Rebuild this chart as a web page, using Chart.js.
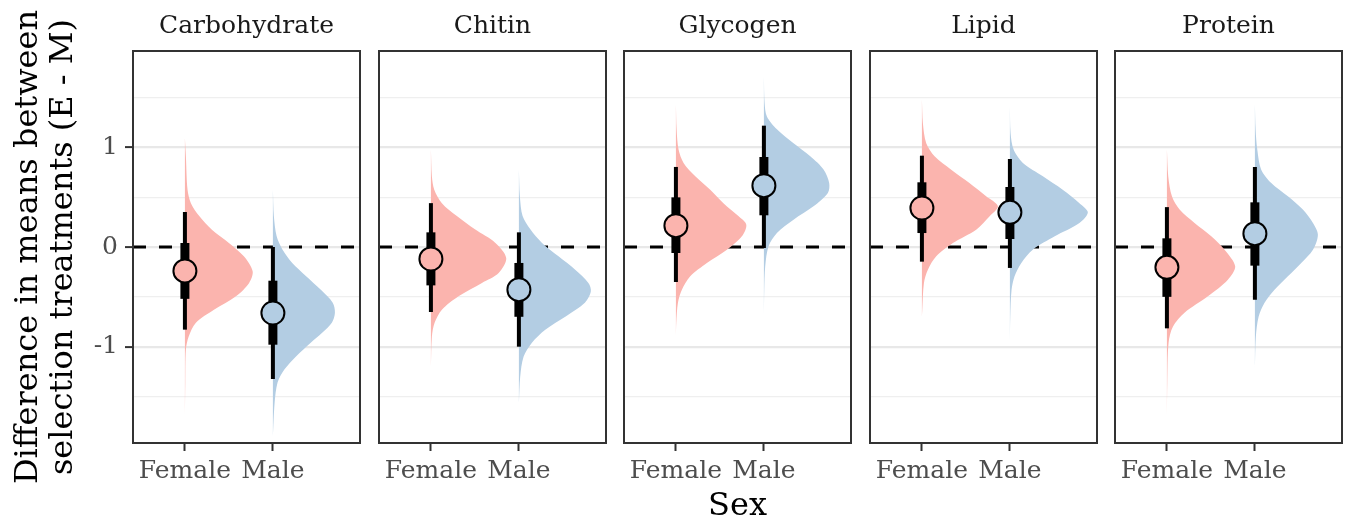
<!DOCTYPE html>
<html><head><meta charset="utf-8">
<script src="https://cdn.jsdelivr.net/npm/chart.js@4/dist/chart.umd.min.js"></script>
<style>
html,body{margin:0;padding:0;background:#fff;}
#wrap{position:relative;width:1345px;height:524px;overflow:hidden;background:#fff;}
canvas{position:absolute;top:0;}
</style></head><body><div id="wrap"></div>
<script>
// ---------------- data ----------------
const nutrients = ['Carbohydrate', 'Chitin', 'Glycogen', 'Lipid', 'Protein'];
const sexes = ['Female', 'Male'];
const yTickValues = [-1, 0, 1];

const femaleMedian = [-0.24, -0.12, 0.214, 0.391, -0.204];
const maleMedian   = [-0.662, -0.428, 0.615, 0.348, 0.134];

const femaleLo95 = [-0.829, -0.652, -0.351, -0.147, -0.816];
const femaleHi95 = [0.351, 0.44, 0.803, 0.916, 0.40];
const femaleLo66 = [-0.52, -0.385, -0.06, 0.14, -0.50];
const femaleHi66 = [0.04, 0.147, 0.498, 0.649, 0.087];

const maleLo95 = [-1.324, -1.0, -0.01, -0.21, -0.528];
const maleHi95 = [0.0, 0.147, 1.217, 0.883, 0.803];
const maleLo66 = [-0.98, -0.70, 0.318, 0.08, -0.187];
const maleHi66 = [-0.338, -0.16, 0.903, 0.602, 0.448];

// posterior density outlines: [value, relative density]
const femaleDensity = [
  [[1.09,0],[0.91,0.011],[0.575,0.03],[0.44,0.068],[0.31,0.163],[0.17,0.31],[0.04,0.5],[-0.094,0.67],[-0.244,0.77],[-0.36,0.73],[-0.495,0.58],[-0.63,0.33],[-0.76,0.125],[-0.90,0.042],[-1.03,0.011],[-1.36,0.004],[-1.70,0]],
  [[0.977,0],[0.71,0.011],[0.575,0.038],[0.44,0.125],[0.31,0.295],[0.177,0.50],[0.043,0.73],[-0.11,0.856],[-0.26,0.77],[-0.36,0.58],[-0.495,0.314],[-0.63,0.125],[-0.76,0.042],[-0.90,0.011],[-1.2,0]],
  [[1.43,0],[1.18,0.008],[0.977,0.03],[0.843,0.087],[0.71,0.22],[0.575,0.39],[0.44,0.54],[0.31,0.71],[0.224,0.80],[0.107,0.75],[-0.027,0.58],[-0.16,0.352],[-0.294,0.163],[-0.43,0.068],[-0.56,0.023],[-0.76,0.004],[-0.90,0]],
  [[1.48,0],[1.244,0.011],[1.04,0.049],[0.91,0.144],[0.776,0.333],[0.642,0.54],[0.508,0.73],[0.408,0.864],[0.308,0.77],[0.174,0.617],[0.04,0.352],[-0.094,0.163],[-0.227,0.068],[-0.36,0.023],[-0.63,0.004],[-0.70,0]],
  [[0.977,0],[0.71,0.015],[0.508,0.057],[0.375,0.144],[0.24,0.314],[0.107,0.504],[-0.027,0.655],[-0.194,0.776],[-0.328,0.693],[-0.495,0.466],[-0.66,0.20],[-0.80,0.068],[-0.96,0.019],[-1.36,0.004],[-1.70,0]]
];
const maleDensity = [
  [[0.575,0],[0.31,0.011],[0.11,0.042],[-0.027,0.11],[-0.16,0.22],[-0.29,0.375],[-0.43,0.545],[-0.56,0.68],[-0.66,0.705],[-0.76,0.67],[-0.86,0.56],[-0.96,0.43],[-1.10,0.26],[-1.23,0.13],[-1.36,0.053],[-1.57,0.019],[-1.90,0]],
  [[0.776,0],[0.51,0.011],[0.31,0.042],[0.177,0.13],[0.043,0.26],[-0.094,0.45],[-0.227,0.64],[-0.36,0.79],[-0.445,0.818],[-0.56,0.75],[-0.70,0.527],[-0.83,0.30],[-0.96,0.148],[-1.10,0.053],[-1.30,0.015],[-1.565,0]],
  [[1.71,0],[1.445,0.008],[1.31,0.034],[1.18,0.148],[1.04,0.337],[0.91,0.527],[0.776,0.68],[0.642,0.742],[0.542,0.727],[0.408,0.564],[0.274,0.337],[0.14,0.148],[0.007,0.053],[-0.194,0.015],[-0.43,0.004],[-0.70,0]],
  [[1.41,0],[1.14,0.008],[0.977,0.042],[0.843,0.148],[0.71,0.375],[0.575,0.60],[0.44,0.79],[0.348,0.886],[0.24,0.79],[0.107,0.51],[-0.027,0.26],[-0.16,0.13],[-0.294,0.053],[-0.43,0.019],[-0.70,0.004],[-0.96,0]],
  [[1.43,0],[1.18,0.008],[0.977,0.027],[0.776,0.072],[0.642,0.186],[0.508,0.375],[0.375,0.545],[0.24,0.66],[0.124,0.716],[-0.027,0.66],[-0.16,0.527],[-0.294,0.375],[-0.43,0.223],[-0.56,0.11],[-0.70,0.042],[-0.90,0.011],[-1.23,0]]
];

// ---------------- layout / style ----------------
const FONT = 'DejaVu Serif';
const COLORS = ['#FBB4AE', '#B3CDE3'];
const panelLeft = [133, 378.5, 624, 869.5, 1115];
const panelW = 227;
const PAD = 3;
const X_MIN = 0.41, X_MAX = 2.99;
const Y_MIN = -1.966, Y_MAX = 1.966;
const isMajor = v => yTickValues.some(t => Math.abs(t - v) < 1e-6);

const panelBorder = {
  id: 'panelBorder',
  afterDraw(chart) {
    const {ctx, chartArea: a} = chart;
    ctx.save();
    ctx.strokeStyle = '#333333';
    ctx.lineWidth = 2;
    ctx.strokeRect(a.left, a.top, a.right - a.left, a.bottom - a.top);
    ctx.restore();
  }
};

const wrap = document.getElementById('wrap');

nutrients.forEach((name, k) => {
  const first = k === 0;
  const areaLeft = Math.round(panelLeft[k]);
  const left = first ? 0 : areaLeft - PAD;
  const width = first ? areaLeft + panelW + PAD : panelW + 2 * PAD;
  const canvas = document.createElement('canvas');
  canvas.width = width; canvas.height = 524;
  canvas.style.left = left + 'px';
  canvas.style.width = width + 'px'; canvas.style.height = '524px';
  wrap.appendChild(canvas);

  const groups = [
    {pos: 1, med: femaleMedian[k], lo95: femaleLo95[k], hi95: femaleHi95[k], lo66: femaleLo66[k], hi66: femaleHi66[k], dens: femaleDensity[k], color: COLORS[0]},
    {pos: 2, med: maleMedian[k], lo95: maleLo95[k], hi95: maleHi95[k], lo66: maleLo66[k], hi66: maleHi66[k], dens: maleDensity[k], color: COLORS[1]}
  ];

  const datasets = [];
  datasets.push({
    data: [{x: X_MIN, y: 0}, {x: X_MAX, y: 0}],
    borderColor: '#000', borderWidth: 3, borderDash: [13, 13], pointRadius: 0, fill: false, order: 10
  });
  groups.forEach(g => {
    datasets.push({
      data: g.dens.map(([v, d]) => ({x: g.pos + d, y: v})),
      borderWidth: 0, borderColor: g.color, backgroundColor: g.color,
      pointRadius: 0, fill: 'shape', tension: 0.3, order: 8
    });
    datasets.push({
      data: [{x: g.pos, y: g.lo95}, {x: g.pos, y: g.hi95}],
      borderColor: '#000', borderWidth: 4, pointRadius: 0, fill: false, order: 6, borderCapStyle: 'butt'
    });
    datasets.push({
      data: [{x: g.pos, y: g.lo66}, {x: g.pos, y: g.hi66}],
      borderColor: '#000', borderWidth: 9, pointRadius: 0, fill: false, order: 4, borderCapStyle: 'butt'
    });
  });
  datasets.push({
    data: groups.map(g => ({x: g.pos, y: g.med})),
    showLine: false, pointRadius: 11.5, pointHoverRadius: 11.5, pointBorderWidth: 2,
    pointBorderColor: '#000', pointBackgroundColor: groups.map(g => g.color), order: 0
  });

  new Chart(canvas, {
    type: 'line',
    data: {datasets},
    plugins: [panelBorder],
    options: {
      responsive: false, animation: false, devicePixelRatio: 1, events: [],
      layout: {autoPadding: false, padding: {left: first ? 0 : PAD, right: PAD, top: 0, bottom: 0}},
      plugins: {
        legend: {display: false}, tooltip: {enabled: false},
        title: {
          display: true, text: name, fullSize: false, color: '#1a1a1a',
          font: {family: FONT, size: 25, weight: 'normal', lineHeight: 1.2},
          padding: {top: 11, bottom: 10}
        }
      },
      scales: {
        x: {
          type: 'linear', position: 'bottom', min: X_MIN, max: X_MAX,
          afterFit: s => { s.height = 81; },
          border: {display: false},
          grid: {drawOnChartArea: false, drawTicks: true, tickLength: 8, tickColor: '#333333', tickWidth: 2},
          ticks: {
            stepSize: 1, includeBounds: false, autoSkip: false, maxRotation: 0, padding: 5,
            color: '#4d4d4d', font: {family: FONT, size: 25},
            callback: v => (Math.abs(v - Math.round(v)) < 1e-6 && sexes[Math.round(v) - 1]) || ''
          },
          title: {
            display: k === 2, text: 'Sex', color: '#000',
            font: {family: FONT, size: 32, lineHeight: 1.1}, padding: {top: 0, bottom: 0}
          }
        },
        y: {
          type: 'linear', position: 'left', min: Y_MIN, max: Y_MAX,
          afterFit: s => { s.width = first ? areaLeft : 0; },
          border: {display: false},
          grid: {
            color: c => (c.tick && isMajor(c.tick.value)) ? '#e8e8e8' : '#efefef',
            lineWidth: c => (c.tick && isMajor(c.tick.value)) ? 2.2 : 1.2,
            drawTicks: first, tickLength: 8, tickWidth: 2,
            tickColor: c => (c.tick && isMajor(c.tick.value)) ? '#333333' : 'rgba(0,0,0,0)'
          },
          ticks: {
            display: first, stepSize: 0.5, includeBounds: false, padding: 7,
            color: '#4d4d4d', font: {family: FONT, size: 25},
            callback: v => isMajor(v) ? String(Math.round(v)) : ''
          },
          title: {
            display: first, text: ['Difference in means between', 'selection treatments (E - M)'],
            color: '#000', font: {family: FONT, size: 32, lineHeight: 1.1}, padding: {top: 11, bottom: 0}
          }
        }
      }
    }
  });
});
</script></body></html>
